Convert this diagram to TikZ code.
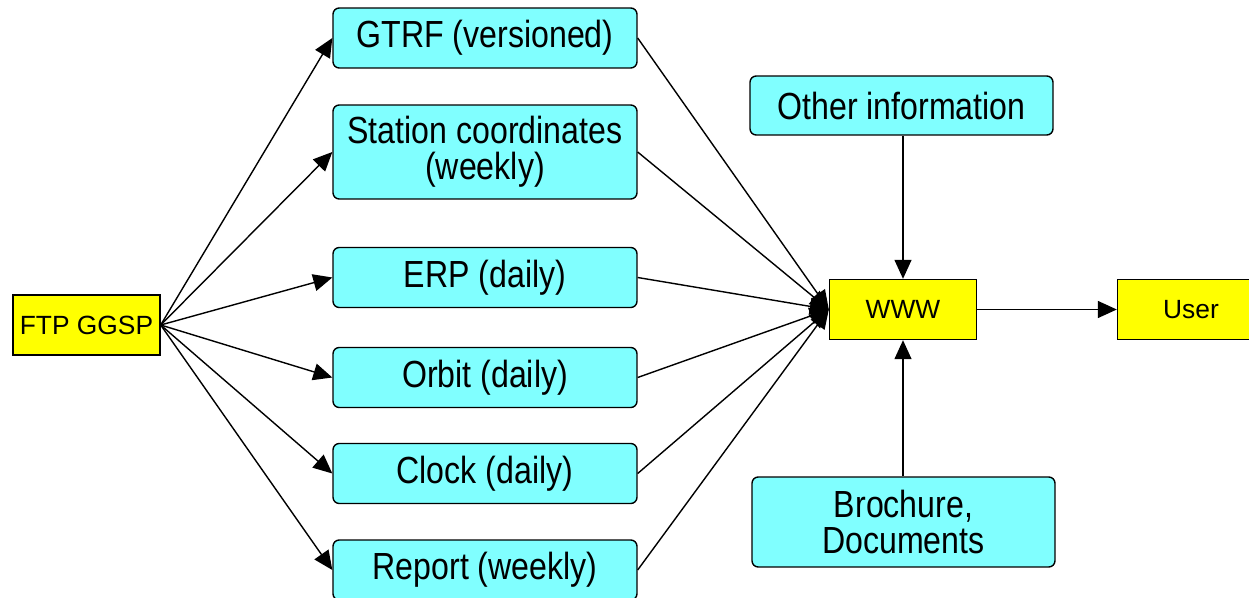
\documentclass[tikz,border=0pt]{standalone}
\usepackage{fontspec}
\setmainfont{Liberation Sans}
\newfontfamily\narrowfont[FakeStretch=0.85]{Liberation Sans}
\usetikzlibrary{arrows.meta}
\definecolor{infocyan}{RGB}{128,255,255}
\definecolor{portyellow}{RGB}{255,255,0}
\begin{document}
\begin{tikzpicture}[x=0.02cm, y=-0.02cm,
    infobox/.style={draw, fill=infocyan, rounded corners=3.5pt, line width=0.8pt,
      minimum width=6.08cm, minimum height=1.2cm, inner sep=0pt, align=center,
      font=\narrowfont\fontsize{21.5}{20.5}\selectfont},
    portbox/.style={draw, fill=portyellow, line width=0.8pt,
      minimum width=2.94cm, minimum height=1.2cm, inner sep=0pt,
      font=\fontsize{15}{18}\selectfont},
    flow/.style={-{Triangle[length=0.38cm, width=0.34cm]}, line width=0.8pt}]
      \useasboundingbox (0,0) rectangle (1249,598);
      %
      \node[portbox] (ftp) at (86.5,325) {FTP GGSP};
      \node[portbox] (www) at (903,309.5) {WWW};
      \node[portbox] (user) at (1191,309.5) {User};
      %
      \node[infobox] (gtrf) at (485,38) {GTRF (versioned)};
      \node[infobox, minimum height=1.88cm] (station) at (485,152) {Station coordinates\\(weekly)};
      \node[infobox] (erp) at (485,277.5) {ERP (daily)};
      \node[infobox] (orbit) at (485,377.5) {Orbit (daily)};
      \node[infobox] (clock) at (485,473.5) {Clock (daily)};
      \node[infobox] (report) at (485,570) {Report (weekly)};
      \node[infobox, minimum width=6.06cm, minimum height=1.18cm] (other) at (901.5,105.5) {Other information};
      \node[infobox, minimum width=6.06cm, minimum height=1.8cm] (brochure) at (903.5,522) {Brochure,\\Documents};
      %
      \foreach \prod in {gtrf, station, erp, orbit, clock, report} {
        \draw[flow] (ftp.east) -- (\prod.west);
        \draw[flow] (\prod.east) -- (www.west);
      }
      %
      \draw[flow] (other.south -| www.north) -- (www.north);
      \draw[flow] (brochure.north -| www.south) -- (www.south);
      \draw[flow] (www) -- (user);
      %
    \end{tikzpicture}
\end{document}
